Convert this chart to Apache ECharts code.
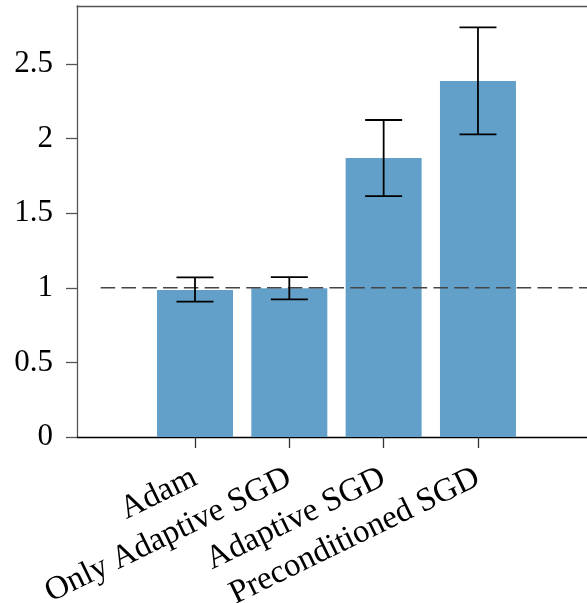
<!DOCTYPE html>
<html>
<head>
<meta charset="utf-8">
<script src="https://cdn.jsdelivr.net/npm/echarts@6/dist/echarts.min.js"></script>
<style>html,body{margin:0;padding:0;background:#fff}#c{width:587px;height:603px}</style>
</head>
<body>
<div id="c"></div>
<script>
var categories = ['Adam', 'Only Adaptive SGD', 'Adaptive SGD', 'Preconditioned SGD'];
var means = [0.985, 0.997, 1.87, 2.386];
var errLow = [0.907, 0.923, 1.615, 2.029];
var errHigh = [1.07, 1.072, 2.125, 2.746];
var yTicks = [0, 0.5, 1, 1.5, 2, 2.5];
var refLine = [[-1, 1], [5, 1]];

var positions = categories.map(function (_, i) { return i; });
var barData = means.map(function (v, i) { return [i, v]; });
var errData = means.map(function (_, i) { return [i, errLow[i], errHigh[i]]; });

var chart = echarts.init(document.getElementById('c'), null, {renderer: 'canvas'});
var serif = 'Liberation Serif';
chart.setOption({
  animation: false,
  backgroundColor: '#fff',
  grid: {left: 77, right: 0, top: 6, bottom: 166, containLabel: false, outerBoundsMode: 'none'},
  xAxis: [{
    type: 'value', min: -1.251, max: 4.156, position: 'bottom',
    axisLine: {show: true, onZero: false, lineStyle: {color: '#000', width: 1.3}},
    axisTick: {show: true, length: 11, customValues: positions, lineStyle: {color: '#333', width: 1.3}},
    axisLabel: {
      customValues: positions, rotate: 26, margin: 39,
      fontFamily: serif, fontSize: 33, color: '#000',
      formatter: function (v) { return categories[Math.round(v)]; }
    },
    splitLine: {show: false}
  }, {
    type: 'value', min: -1.251, max: 4.156, position: 'top',
    axisLine: {show: true, onZero: false, lineStyle: {color: '#555', width: 1.3}},
    axisTick: {show: false}, axisLabel: {show: false}, splitLine: {show: false}
  }],
  yAxis: {
    type: 'value', min: 0, max: 2.889,
    axisLine: {show: true, onZero: false, lineStyle: {color: '#555', width: 1.3}},
    axisTick: {show: true, length: 11, customValues: yTicks, lineStyle: {color: '#555', width: 1.3}},
    axisLabel: {customValues: yTicks, margin: 24, fontFamily: serif, fontSize: 31, color: '#000'},
    splitLine: {show: false}
  },
  series: [{
    type: 'bar', data: barData, barWidth: 76, z: 2,
    itemStyle: {color: '#62a0ca'}
  }, {
    type: 'line', data: refLine, symbol: 'none', z: 3, silent: true,
    lineStyle: {color: '#444', width: 1.6, type: [14.5, 6.3]}
  }, {
    type: 'custom', z: 4, data: errData,
    renderItem: function (params, api) {
      var x = api.value(0);
      var lo = api.coord([x, api.value(1)]);
      var hi = api.coord([x, api.value(2)]);
      var hw = 18.5;
      var st = {stroke: '#000', lineWidth: 1.8};
      return {type: 'group', children: [
        {type: 'line', shape: {x1: lo[0], y1: lo[1], x2: hi[0], y2: hi[1]}, style: st},
        {type: 'line', shape: {x1: lo[0] - hw, y1: lo[1], x2: lo[0] + hw, y2: lo[1]}, style: st},
        {type: 'line', shape: {x1: hi[0] - hw, y1: hi[1], x2: hi[0] + hw, y2: hi[1]}, style: st}
      ]};
    }
  }]
});
</script>
</body>
</html>
